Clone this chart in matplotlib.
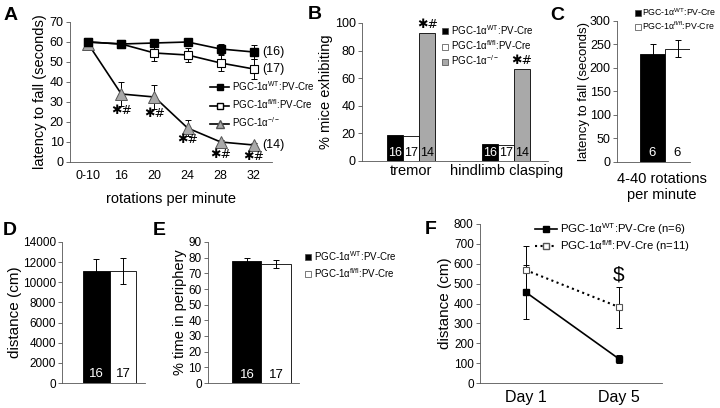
import matplotlib
matplotlib.use('Agg')
import matplotlib.pyplot as plt
from matplotlib.lines import Line2D

plt.rcParams['font.family'] = ['Liberation Sans', 'DejaVu Sans']
plt.rcParams['mathtext.fontset'] = 'custom'
plt.rcParams['mathtext.rm'] = 'Liberation Sans'
plt.rcParams['mathtext.it'] = 'Liberation Sans:italic'
plt.rcParams['mathtext.bf'] = 'Liberation Sans:bold'
plt.rcParams['axes.linewidth'] = 0.6
plt.rcParams['axes.edgecolor'] = '#555555'

# ---- data ----
# A: rotarod, latency to fall
rpm_labels = ['0-10', '16', '20', '24', '28', '32']
wt_a = [60, 59, 59.5, 60, 56.5, 55]
wt_a_err = [0.5, 0.8, 0.8, 0.8, 2.5, 3.5]
fl_a = [60, 59, 54.5, 53.5, 49.5, 46.5]
fl_a_err = [0.5, 0.8, 4, 3.5, 4, 5]
ko_a = [59, 34, 32.5, 17, 10, 8.5]
ko_a_err = [1, 6, 6, 4, 1, 1]
n_a = ['(16)', '(17)', '(14)']
star_a_y = [25.5, 24, 11, 3.5, 2.5]

# B: % mice exhibiting
b_cats = ['tremor', 'hindlimb clasping']
wt_b = [18.5, 12.5]
fl_b = [17.8, 11.8]
ko_b = [93, 67]
n_b = ['16', '17', '14']

# C: accelerating rotarod
wt_c, wt_c_err = 229, 21
fl_c, fl_c_err = 241, 18
n_c = ['6', '6']

# D: distance
wt_d, wt_d_err = 11100, 1200
fl_d, fl_d_err = 11100, 1300
n_d = ['16', '17']

# E: % time in periphery
wt_e, wt_e_err = 78, 1.5
fl_e, fl_e_err = 76, 2.5
n_e = ['16', '17']

# F: distance per day
days = ['Day 1', 'Day 5']
wt_f = [457, 121]
wt_f_err = [137, 22]
fl_f = [568, 382]
fl_f_err = [121, 103]

lab_wt = r'PGC-1α$^{\mathrm{WT}}$:PV-Cre'
lab_fl = r'PGC-1α$^{\mathrm{fl/fl}}$:PV-Cre'
lab_ko = r'PGC-1α$^{-/-}$'
GRAY = '#a9a9a9'
STAR = '✱#'
STAR_FONT = ['DejaVu Sans']

W, H = 720, 408
fig = plt.figure(figsize=(W / 100, H / 100), dpi=100)


def ax_px(l, t, r, b):
    ax = fig.add_axes([l / W, 1 - b / H, (r - l) / W, (b - t) / H])
    ax.spines['top'].set_visible(False)
    ax.spines['right'].set_visible(False)
    ax.tick_params(axis='y', length=3, width=0.6, pad=1.5, color='#555555')
    ax.tick_params(axis='x', length=0, pad=6)
    return ax


def ftext(x, y, s, **kw):
    fig.text(x / W, 1 - y / H, s, **kw)


def px_legend(ax, handles, labels, x, y, **kw):
    ax.legend(handles, labels, loc='upper left', bbox_to_anchor=(x / W, 1 - y / H),
              bbox_transform=fig.transFigure, frameon=False, borderpad=0,
              borderaxespad=0, **kw)


ekw = dict(fmt='none', ecolor='black', elinewidth=0.7, capsize=2.5, capthick=0.7)

# ---- A ----
ax = ax_px(70, 22, 272, 162)
x = list(range(len(rpm_labels)))
ax.plot(x, ko_a, '-', color='black', lw=1.2, marker='^', ms=8, mfc=GRAY, mec='#555555', mew=0.7, zorder=3)
ax.errorbar(x, ko_a, yerr=ko_a_err, **ekw)
ax.plot(x, fl_a, '-', color='black', lw=1.2, marker='s', ms=6, mfc='white', mec='black', mew=0.8, zorder=4)
ax.errorbar(x, fl_a, yerr=fl_a_err, **ekw)
ax.plot(x, wt_a, '-', color='black', lw=1.2, marker='s', ms=6, mfc='black', mec='black', zorder=5)
ax.errorbar(x, wt_a, yerr=wt_a_err, **ekw)
ax.set_xlim(-0.55, 5.55)
ax.set_ylim(0, 70)
ax.set_yticks(range(0, 71, 10))
ax.set_xticks(x)
ax.set_xticklabels(rpm_labels)
ax.tick_params(labelsize=9)
ax.set_ylabel('latency to fall (seconds)', fontsize=10.5, labelpad=2)
ax.set_xlabel('rotations per minute', fontsize=10.5, labelpad=7)
for xi, yi in zip(x[1:], star_a_y):
    ax.text(xi, yi, STAR, ha='center', va='center', fontsize=9, family=STAR_FONT, clip_on=False)
for yi, s in zip([wt_a[-1], fl_a[-1], ko_a[-1]], n_a):
    ax.text(5.25, yi, s, ha='left', va='center', fontsize=9, clip_on=False)
hA = [Line2D([], [], color='black', lw=1.2, marker='s', ms=5, mfc='black', mec='black'),
      Line2D([], [], color='black', lw=1.2, marker='s', ms=5, mfc='white', mec='black'),
      Line2D([], [], color='black', lw=1.2, marker='^', ms=6, mfc=GRAY, mec='#555555')]
px_legend(ax, hA, [lab_wt, lab_fl, lab_ko], 210, 79, fontsize=7, handlelength=2.0,
          handletextpad=0.3, labelspacing=0.45)
ftext(4, 20, 'A', fontsize=14, fontweight='bold')

# ---- B ----
ax = ax_px(362, 23, 548, 161)
bw = 0.168
xb = [0, 1]
for k, (vals, col) in enumerate([(wt_b, 'black'), (fl_b, 'white'), (ko_b, GRAY)]):
    pos = [xi + (k - 1) * bw for xi in xb]
    ax.bar(pos, vals, width=bw, color=col, edgecolor='black', linewidth=0.6, zorder=2)
    for p in pos:
        ax.text(p, 1.5, n_b[k], ha='center', va='bottom', fontsize=9,
                color='white' if k == 0 else 'black', zorder=3)
for xi, v in zip(xb, ko_b):
    ax.text(xi + bw, v + 1, STAR, ha='center', va='bottom', fontsize=9, family=STAR_FONT)
ax.set_xlim(-0.52, 1.44)
ax.set_ylim(0, 100)
ax.set_yticks(range(0, 101, 20))
ax.set_xticks(xb)
ax.set_xticklabels(b_cats, fontsize=10.5)
ax.tick_params(axis='y', labelsize=9)
ax.tick_params(axis='x', pad=2)
ax.set_ylabel('% mice exhibiting', fontsize=10.5, labelpad=1)
hB = [Line2D([], [], ls='none', marker='s', ms=4, mfc=c, mec='#444444', mew=0.5)
      for c in ['black', 'white', GRAY]]
px_legend(ax, hB, [lab_wt, lab_fl, lab_ko], 442, 23, fontsize=7, handlelength=0.6,
          handletextpad=0.3, labelspacing=0.15)
ftext(308, 19, 'B', fontsize=14, fontweight='bold')

# ---- C ----
ax = ax_px(617, 21, 690, 162)
ax.bar([0, 1], [wt_c, fl_c], width=1, color=['black', 'white'], edgecolor='black', linewidth=0.6)
ax.errorbar([0, 1], [wt_c, fl_c], yerr=[wt_c_err, fl_c_err], **ekw)
for xi, s, c in zip([0, 1], n_c, ['white', 'black']):
    ax.text(xi, 6, s, ha='center', va='bottom', fontsize=9.5, color=c)
ax.set_xlim(-1.42, 1.5)
ax.set_ylim(0, 300)
ax.set_yticks(range(0, 301, 50))
ax.set_xticks([])
ax.tick_params(axis='y', labelsize=9)
ax.set_ylabel('latency to fall (seconds)', fontsize=9.5, labelpad=0)
ftext(662, 187, '4-40 rotations\nper minute', ha='center', va='center', fontsize=10.5,
      linespacing=1.1)
hC = hB[:2]
px_legend(ax, hC, [lab_wt, lab_fl], 635, 6, fontsize=6.3, handlelength=0.6,
          handletextpad=0.2, labelspacing=0.25)
ftext(550, 20, 'C', fontsize=14, fontweight='bold')

# ---- D ----
ax = ax_px(62, 242, 145, 383)
ax.bar([0, 1], [wt_d, fl_d], width=1, color=['black', 'white'], edgecolor='black', linewidth=0.6)
ax.errorbar([0, 1], [wt_d, fl_d], yerr=[wt_d_err, fl_d_err], **ekw)
for xi, s, c in zip([0, 1], n_d, ['white', 'black']):
    ax.text(xi, 250, s, ha='center', va='bottom', fontsize=9.5, color=c)
ax.set_xlim(-1.3, 1.83)
ax.set_ylim(0, 14000)
ax.set_yticks(range(0, 14001, 2000))
ax.set_xticks([])
ax.tick_params(axis='y', labelsize=8.5)
ax.set_ylabel('distance (cm)', fontsize=11, labelpad=0.5)
ftext(3, 235, 'D', fontsize=14, fontweight='bold')

# ---- E ----
ax = ax_px(208, 242, 299, 383)
ax.bar([0, 1], [wt_e, fl_e], width=1, color=['black', 'white'], edgecolor='black', linewidth=0.6)
ax.errorbar([0, 1], [wt_e, fl_e], yerr=[wt_e_err, fl_e_err], **ekw)
for xi, s, c in zip([0, 1], n_e, ['white', 'black']):
    ax.text(xi, 1.5, s, ha='center', va='bottom', fontsize=9.5, color=c)
ax.set_xlim(-1.34, 1.79)
ax.set_ylim(0, 90)
ax.set_yticks(range(0, 91, 10))
ax.set_xticks([])
ax.tick_params(axis='y', labelsize=8.5)
ax.set_ylabel('% time in periphery', fontsize=10.5, labelpad=1)
px_legend(ax, hC, [lab_wt, lab_fl], 305, 249, fontsize=7, handlelength=0.6,
          handletextpad=0.3, labelspacing=0.3)
ftext(153, 235, 'E', fontsize=14, fontweight='bold')

# ---- F ----
ax = ax_px(480, 224, 662, 383)
xf = [0, 1]
ax.plot(xf, fl_f, ':', color='black', lw=1.5, marker='s', ms=5, mfc='white', mec='#555555', mew=0.8, zorder=3)
ax.errorbar(xf, fl_f, yerr=fl_f_err, **ekw)
ax.plot(xf, wt_f, '-', color='black', lw=1.2, marker='s', ms=5, mfc='black', mec='black', zorder=4)
ax.errorbar(xf, wt_f, yerr=wt_f_err, **ekw)
ax.text(1, 495, '$', ha='center', va='bottom', fontsize=15)
ax.set_xlim(-0.49, 1.46)
ax.set_ylim(0, 800)
ax.set_yticks(range(0, 801, 100))
ax.set_xticks(xf)
ax.set_xticklabels(days, fontsize=11.5)
ax.tick_params(axis='x', pad=5)
ax.tick_params(axis='y', labelsize=8.5)
ax.set_ylabel('distance (cm)', fontsize=11, labelpad=1)
hF = [Line2D([], [], color='black', lw=1.2, marker='s', ms=4, mfc='black', mec='black'),
      Line2D([], [], color='black', lw=1.5, ls=':', marker='s', ms=4, mfc='white', mec='#555555')]
px_legend(ax, hF, [lab_wt + ' (n=6)', lab_fl + ' (n=11)'], 535, 221, fontsize=8.2,
          handlelength=1.9, handletextpad=0.3, labelspacing=0.1)
ftext(425, 234, 'F', fontsize=14, fontweight='bold')

fig.savefig('out.png', dpi=100)
